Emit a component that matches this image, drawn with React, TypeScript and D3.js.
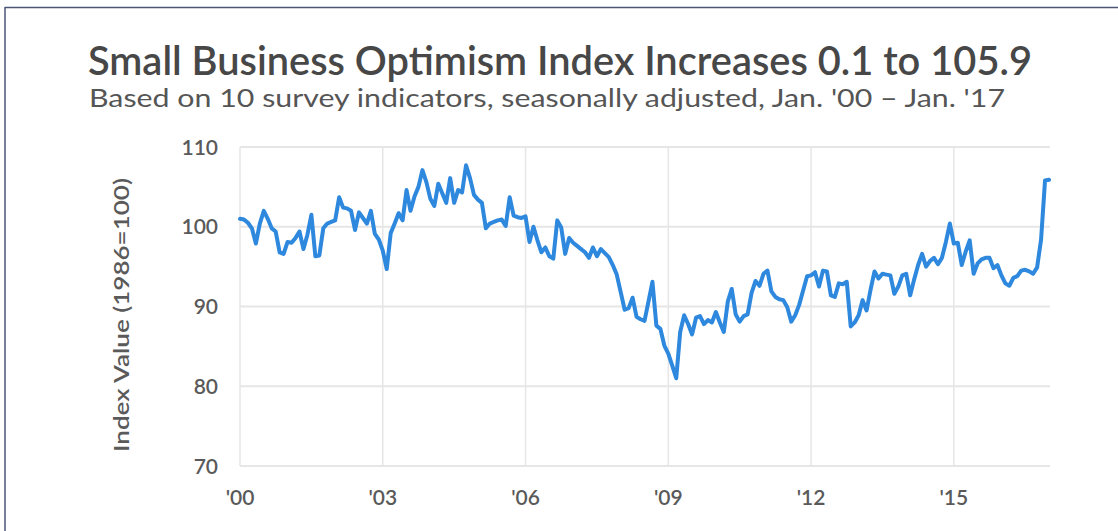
import React from "react";
import * as d3 from "d3";

const title = "Small Business Optimism Index Increases 0.1 to 105.9";
const subtitle = "Based on 10 survey indicators, seasonally adjusted, Jan. '00 \u2013 Jan. '17";
const yAxisTitle = "Index Value (1986=100)";

const y2000 = [101.0, 100.9, 100.5, 99.8, 97.9, 100.4, 102.0, 101.0, 99.8, 99.4, 96.8, 96.6];
const y2001 = [98.1, 98.0, 98.6, 99.4, 97.2, 99.0, 101.5, 96.3, 96.4, 99.8, 100.4, 100.6];
const y2002 = [100.8, 103.7, 102.4, 102.3, 102.0, 99.6, 101.8, 101.1, 100.4, 102.0, 99.1, 98.4];
const y2003 = [97.0, 94.7, 99.2, 100.4, 101.7, 100.8, 104.6, 102.0, 103.8, 105.0, 107.1, 105.6];
const y2004 = [103.5, 102.6, 105.4, 104.2, 103.0, 106.1, 103.0, 104.6, 104.3, 107.7, 106.1, 104.0];
const y2005 = [103.4, 103.0, 99.8, 100.4, 100.6, 100.8, 100.9, 100.1, 103.7, 101.4, 101.2, 101.1];
const y2006 = [101.3, 98.1, 100.0, 98.3, 96.8, 97.4, 96.3, 96.0, 100.8, 99.9, 96.6, 98.6];
const y2007 = [98.0, 97.6, 97.2, 96.8, 96.1, 97.4, 96.3, 97.2, 96.7, 96.2, 95.2, 94.0];
const y2008 = [91.8, 89.6, 89.8, 91.1, 88.7, 88.4, 88.2, 90.6, 93.1, 87.6, 87.2, 85.1];
const y2009 = [84.1, 82.6, 81.0, 86.8, 88.9, 87.8, 86.5, 88.6, 88.8, 87.8, 88.3, 88.0];
const y2010 = [89.3, 88.0, 86.8, 90.6, 92.2, 89.0, 88.1, 88.8, 89.0, 91.7, 93.2, 92.6];
const y2011 = [94.1, 94.5, 91.9, 91.2, 90.9, 90.8, 89.9, 88.1, 88.9, 90.2, 92.0, 93.8];
const y2012 = [93.9, 94.3, 92.5, 94.5, 94.4, 91.4, 91.2, 92.9, 92.8, 93.1, 87.5, 88.0];
const y2013 = [88.9, 90.8, 89.5, 92.1, 94.4, 93.5, 94.1, 94.0, 93.9, 91.6, 92.5, 93.9];
const y2014 = [94.1, 91.4, 93.4, 95.2, 96.6, 95.0, 95.7, 96.1, 95.3, 96.1, 98.1, 100.4];
const y2015 = [97.9, 98.0, 95.2, 96.9, 98.3, 94.1, 95.4, 95.9, 96.1, 96.1, 94.8, 95.2];
const y2016 = [93.9, 92.9, 92.6, 93.6, 93.8, 94.5, 94.6, 94.4, 94.1, 94.9, 98.4, 105.8];
const y2017 = [105.9];

const values = [
  ...y2000, ...y2001, ...y2002, ...y2003, ...y2004, ...y2005, ...y2006, ...y2007, ...y2008,
  ...y2009, ...y2010, ...y2011, ...y2012, ...y2013, ...y2014, ...y2015, ...y2016, ...y2017,
];

const xTickMonths = [0, 36, 72, 108, 144, 180];
const xTickLabels = ["'00", "'03", "'06", "'09", "'12", "'15"];
const yTicks = [70, 80, 90, 100, 110];

const W = 1118;
const H = 531;
const plotLeft = 240;
const plotRight = 1050;
const dataRight = 1049;
const plotTop = 147;
const plotBottom = 466;

export default function App() {
  const x = d3.scaleLinear().domain([0, values.length - 1]).range([plotLeft, dataRight]);
  const y = d3.scaleLinear().domain([70, 110]).range([plotBottom, plotTop]);
  const line = d3
    .line<number>()
    .x((_, i) => x(i))
    .y((d) => y(d))
    .curve(d3.curveLinear);

  const font = "Lato, 'Noto Sans', sans-serif";

  return (
    <div style={{ position: "absolute", left: 0, top: 0 }}>
      <svg width={W} height={H} style={{ display: "block", background: "#fff" }}>
        <rect x={0} y={0} width={W} height={H} fill="#fff" />
        <line x1={5} x2={5} y1={7} y2={H} stroke="#4d5478" strokeWidth={1.5} />
        <line x1={5} x2={W} y1={7.5} y2={7.5} stroke="#4d5478" strokeWidth={1.5} />

        <text
          x={88}
          y={75}
          fontFamily={font}
          fontSize={40}
          fontWeight={600}
          fill="#474747"
          textLength={944}
          lengthAdjust="spacingAndGlyphs"
        >
          {title}
        </text>
        <text
          x={89}
          y={107}
          fontFamily={font}
          fontSize={25}
          fill="#555"
          textLength={916}
          lengthAdjust="spacingAndGlyphs"
        >
          {subtitle}
        </text>

        {yTicks.map((t) => (
          <g key={"y" + t}>
            <line x1={plotLeft} x2={plotRight} y1={y(t)} y2={y(t)} stroke="#e6e6e6" strokeWidth={2} />
            <text
              x={218}
              y={y(t)}
              dy="0.36em"
              textAnchor="end"
              fontFamily={font}
              fontSize={21}
              fontWeight={600}
              fill="#5a5a5a"
            >
              {t}
            </text>
          </g>
        ))}

        {xTickMonths.map((m, i) => (
          <g key={"x" + m}>
            <line x1={x(m)} x2={x(m)} y1={plotTop} y2={plotBottom} stroke="#e6e6e6" strokeWidth={1.5} />
            <text
              x={x(m)}
              y={505}
              textAnchor="middle"
              fontFamily={font}
              fontSize={21}
              fontWeight={600}
              fill="#5a5a5a"
            >
              {xTickLabels[i]}
            </text>
          </g>
        ))}

        <text
          transform={`translate(129, 315) rotate(-90)`}
          textAnchor="middle"
          fontFamily={font}
          fontSize={21}
          fontWeight={600}
          fill="#5a5a5a"
          textLength={274}
          lengthAdjust="spacingAndGlyphs"
        >
          {yAxisTitle}
        </text>

        <path
          d={line(values) || ""}
          fill="none"
          stroke="#2d88de"
          strokeWidth={4}
          strokeLinejoin="round"
          strokeLinecap="round"
        />
      </svg>
    </div>
  );
}
